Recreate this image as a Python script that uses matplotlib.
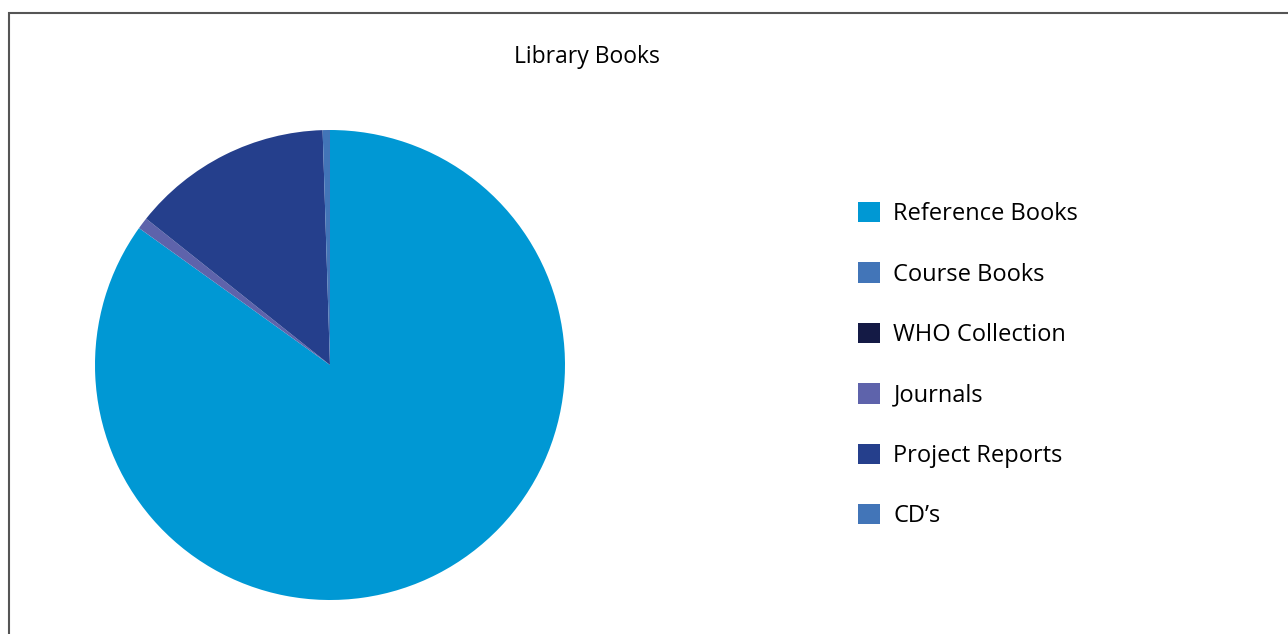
import matplotlib
matplotlib.use("Agg")
import matplotlib.pyplot as plt
from matplotlib.patches import Rectangle

# data
categories = ["Reference Books", "Course Books", "WHO Collection", "Journals", "Project Reports", "CD’s"]
values = [84.9, 0.0, 0.0, 0.8, 13.8, 0.5]
colors = ["#0098d4", "#4275b8", "#141a45", "#5e63ab", "#253f8c", "#4275b8"]

plt.rcParams["font.family"] = ["Open Sans", "DejaVu Sans"]

fig = plt.figure(figsize=(12.88, 6.34), dpi=100)

# frame line at top/left like the cropped source
fig.add_artist(Rectangle((9 / 1288, -0.2), 1.2, 1.2 - 13 / 634,
                         transform=fig.transFigure, fill=False,
                         edgecolor="#555555", linewidth=1.5))

ax = fig.add_axes([95 / 1288, (634 - 600) / 634, 470 / 1288, 470 / 634])
wedges, _ = ax.pie(values, colors=colors, startangle=90, counterclock=False,
                   wedgeprops=dict(linewidth=0))
ax.set_xlim(-1, 1)
ax.set_ylim(-1, 1)
ax.set_aspect("equal")

fig.text(587 / 1288, 1 - 57 / 634, "Library Books", ha="center", va="center", fontsize=16.5)

fig.legend(wedges, categories, loc="upper left",
           bbox_to_anchor=(858 / 1288, 1 - 202 / 634),
           frameon=False, fontsize=17, handlelength=0.95, handleheight=0.95,
           handletextpad=0.55, labelspacing=1.53, borderpad=0, borderaxespad=0)

fig.savefig("out.png", dpi=100)
